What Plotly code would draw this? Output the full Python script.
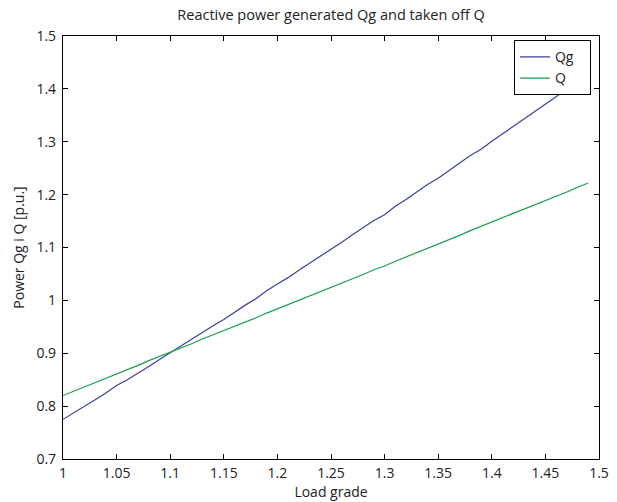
import plotly.graph_objects as go

load_grade = [1.00, 1.01, 1.02, 1.03, 1.04, 1.05, 1.06, 1.07, 1.08, 1.09,
              1.10, 1.11, 1.12, 1.13, 1.14, 1.15, 1.16, 1.17, 1.18, 1.19,
              1.20, 1.21, 1.22, 1.23, 1.24, 1.25, 1.26, 1.27, 1.28, 1.29,
              1.30, 1.31, 1.32, 1.33, 1.34, 1.35, 1.36, 1.37, 1.38, 1.39,
              1.40, 1.41, 1.42, 1.43, 1.44, 1.45, 1.46, 1.47, 1.48, 1.49]

qg_values = [0.775, 0.787, 0.800, 0.812, 0.825, 0.839, 0.850, 0.862, 0.875, 0.888,
             0.901, 0.914, 0.927, 0.940, 0.952, 0.964, 0.978, 0.991, 1.003, 1.018,
             1.031, 1.043, 1.057, 1.070, 1.084, 1.096, 1.110, 1.124, 1.137, 1.151,
             1.162, 1.178, 1.191, 1.205, 1.219, 1.231, 1.246, 1.260, 1.274, 1.286,
             1.301, 1.315, 1.329, 1.343, 1.356, 1.371, 1.385, 1.400, 1.414, 1.428]

q_values = [0.820, 0.828, 0.836, 0.845, 0.852, 0.861, 0.869, 0.877, 0.886, 0.894,
            0.901, 0.910, 0.918, 0.927, 0.935, 0.942, 0.951, 0.959, 0.967, 0.976,
            0.984, 0.992, 1.000, 1.009, 1.016, 1.025, 1.033, 1.041, 1.049, 1.058,
            1.065, 1.074, 1.082, 1.091, 1.099, 1.106, 1.115, 1.123, 1.132, 1.140,
            1.148, 1.156, 1.164, 1.173, 1.180, 1.189, 1.197, 1.205, 1.214, 1.222]

x_ticks = [1, 1.05, 1.1, 1.15, 1.2, 1.25, 1.3, 1.35, 1.4, 1.45, 1.5]
x_tick_labels = ["1", "1.05", "1.1", "1.15", "1.2", "1.25", "1.3", "1.35", "1.4", "1.45", "1.5"]
y_ticks = [0.7, 0.8, 0.9, 1.0, 1.1, 1.2, 1.3, 1.4, 1.5]
y_tick_labels = ["0.7", "0.8", "0.9", "1", "1.1", "1.2", "1.3", "1.4", "1.5"]

FONT = "Open Sans, Lato, sans-serif"
TXT = "#222"
NB = "\u00a0"

fig = go.Figure()
fig.add_trace(go.Scatter(x=load_grade, y=qg_values, mode="lines", name="Qg" + NB * 3,
                         line=dict(color="#3c3f9f", width=1.2)))
fig.add_trace(go.Scatter(x=load_grade, y=q_values, mode="lines", name="Q" + NB * 3,
                         line=dict(color="#1c9e50", width=1.2)))

axis_common = dict(showgrid=False, zeroline=False, showline=True, linecolor="black",
                   linewidth=1.2, mirror="ticks", ticks="inside", ticklen=5,
                   tickcolor="black", tickwidth=1, automargin=False,
                   tickfont=dict(family=FONT, size=14, color=TXT))

fig.update_layout(
    width=617, height=502,
    margin=dict(l=63, r=18, t=36, b=43),
    paper_bgcolor="white", plot_bgcolor="white",
    title=dict(text="Reactive power generated Qg and taken off Q",
               x=(63 + 599) / 2 / 617, xanchor="center", y=1 - 15 / 502, yanchor="middle",
               font=dict(family=FONT, size=14.5, color=TXT)),
    xaxis=dict(range=[1, 1.5], tickvals=x_ticks, ticktext=x_tick_labels,
               ticklabelstandoff=1,
               title=dict(text="Load grade", font=dict(family=FONT, size=14, color=TXT),
                          standoff=3),
               **axis_common),
    yaxis=dict(range=[0.7, 1.5], tickvals=y_ticks, ticktext=y_tick_labels,
               ticklabelstandoff=3,
               title=dict(text="Power Qg i Q [p.u.]", font=dict(family=FONT, size=14, color=TXT),
                          standoff=8),
               **axis_common),
    legend=dict(x=0.985, xanchor="right", y=0.99, yanchor="top",
                bgcolor="white", bordercolor="black", borderwidth=1,
                font=dict(family=FONT, size=14, color=TXT),
                itemwidth=30, tracegroupgap=0),
    showlegend=True,
)

fig.write_html("out.html")
